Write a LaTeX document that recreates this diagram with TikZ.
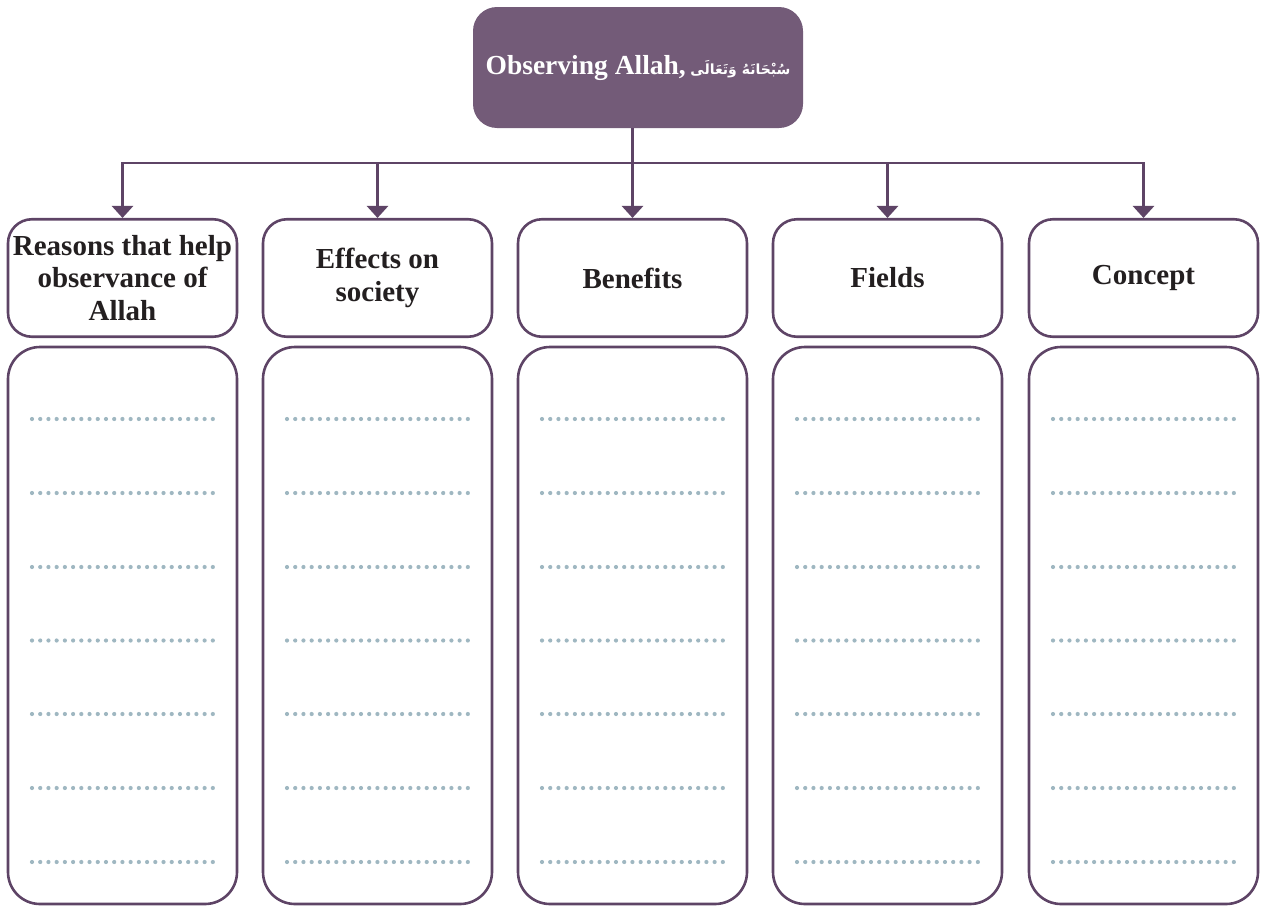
\documentclass[tikz,border=0pt]{standalone}
\usepackage{fontspec}
\setmainfont{Liberation Serif}
\newfontfamily\arabicfont[Script=Arabic]{DejaVu Sans}
\TeXXeTstate=1
\usetikzlibrary{arrows.meta}
\definecolor{plum}{HTML}{735B78}
\definecolor{plumline}{HTML}{5E4466}
\definecolor{dotgray}{HTML}{9FB7C1}
\definecolor{ink}{HTML}{231F20}
\begin{document}
\begin{tikzpicture}[x=1pt,y=-1pt,
  titlebox/.style={fill=plum, rounded corners=24pt, minimum width=330pt, minimum height=121pt,
    inner sep=0pt, text=white, font=\fontsize{27.5}{32}\selectfont\bfseries},
  hdr/.style={draw=plumline, line width=2.6pt, rounded corners=24pt, minimum width=229pt,
    minimum height=117.5pt, inner sep=0pt, align=center, text=ink,
    font=\fontsize{29}{32.5}\selectfont\bfseries},
  answerbox/.style={draw=plumline, line width=2.6pt, rounded corners=32pt, minimum width=229pt,
    minimum height=557pt, inner sep=0pt},
  link/.style={draw=plumline, line width=2.8pt},
  tip/.style={-{Triangle[width=21pt,length=12pt]}},
  dotrule/.style={draw=dotgray, line width=4.2pt, line cap=round, dash pattern=on 0pt off 8.22pt}]
\useasboundingbox (0,0) rectangle (1265,910);

% main topic
\node[titlebox] (top) at (638,67.5)
  {Observing Allah,\,{\arabicfont\fontsize{14}{14}\selectfont\beginR سُبْحَانَهُ وَتَعَالَى\endR}};

% column headers
\node[hdr] (h1) at (122.5,278) {Reasons that help\\observance of\\Allah};
\node[hdr] (h2) at (377.5,278) {Effects on\\society};
\node[hdr] (h3) at (632.5,278) {Benefits};
\node[hdr] (h4) at (887.5,278) {Fields};
\node[hdr] (h5) at (1143.5,278) {Concept};

% answer boxes
\node[answerbox] (b1) at (122.5,625.5) {};
\node[answerbox] (b2) at (377.5,625.5) {};
\node[answerbox] (b3) at (632.5,625.5) {};
\node[answerbox] (b4) at (887.5,625.5) {};
\node[answerbox] (b5) at (1143.5,625.5) {};

% connectors
\coordinate (bar) at (632.5,163);
\draw[link] (top.south -| bar) -- (bar);
\draw[link,tip] (bar) -| (h1.north);
\draw[link,tip] (bar) -| (h2.north);
\draw[link,tip] (bar) -- (h3.north);
\draw[link,tip] (bar) -| (h4.north);
\draw[link,tip] (bar) -| (h5.north);

% dotted writing lines
\foreach \cx in {122.5,377.5,632.5,887.5,1143.5}
  \foreach \ry in {419,493,567,640.5,714,788,862}
    \draw[dotrule] (\cx-90.5,\ry) -- (\cx+90.5,\ry);
\end{tikzpicture}
\end{document}
